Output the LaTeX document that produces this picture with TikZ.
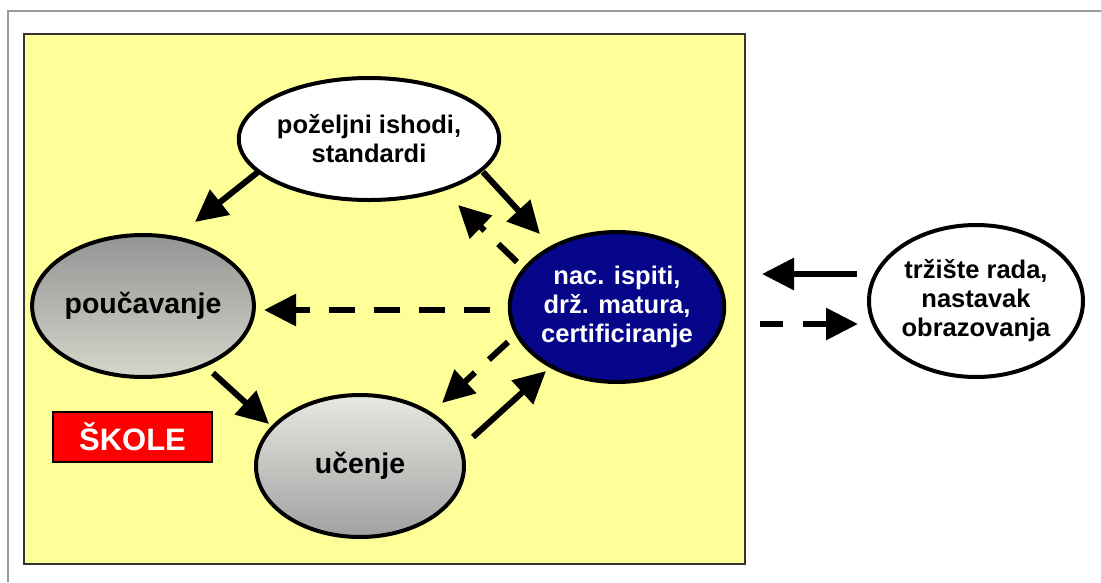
\documentclass[tikz,border=0pt]{standalone}
\usepackage{fontspec}
\setmainfont{Liberation Sans}
\usetikzlibrary{shapes.geometric,arrows.meta,calc}
\definecolor{bgyellow}{HTML}{FFFF99}
\definecolor{navyfill}{HTML}{06068A}
\definecolor{framegray}{HTML}{9A9A9A}
\begin{document}
\begin{tikzpicture}[x=1pt,y=-1pt,
  oval/.style={ellipse,draw=black,line width=4pt,inner sep=0pt,align=center,
    font=\fontsize{25.5}{29}\selectfont\bfseries},
  arr/.style={line width=6pt,-{Triangle[length=32pt,width=31pt]}},
  darr/.style={arr,dash pattern=on 26pt off 19pt}]
\useasboundingbox (0,0) rectangle (1101,582);
\fill[white] (0,0) rectangle (1101,582);
\draw[framegray,line width=1.5pt] (8,582) -- (8,11) -- (1101,11);
\draw[fill=bgyellow,draw=black!80,line width=2pt] (24,34) rectangle (745,564);
% nodes
\node[oval,fill=white,minimum width=212pt,minimum height=122pt] (top) at (369,139) {poželjni ishodi,\\standardi};
\node[oval,top color=black!42,bottom color={rgb,255:red,214;green,214;blue,204},minimum width=208pt,minimum height=142pt,
  font=\fontsize{28.5}{32}\selectfont\bfseries] (pouc) at (143,306) {poučavanje};
\node[oval,top color={rgb,255:red,232;green,232;blue,226},bottom color=black!37,minimum width=208pt,minimum height=142pt,
  font=\fontsize{28.5}{32}\selectfont\bfseries] (ucen) at (360,466) {učenje};
\node[oval,fill=navyfill,text=white,minimum width=206pt,minimum height=150pt] (nac) at (617,307) {nac. ispiti,\\drž. matura,\\certificiranje};
\node[oval,fill=white,minimum width=214pt,minimum height=152pt] (trz) at (976,301) {tržište rada,\\nastavak\\obrazovanja};
\node[draw=black,line width=1.5pt,fill=red,text=white,minimum width=159pt,minimum height=50pt,inner sep=0pt,
  font=\fontsize{31}{35}\selectfont\bfseries] (skole) at (132.5,437) {ŠKOLE};
% connector end points
\coordinate (a1s) at ($(top)+(-111,33)$);   \coordinate (a1e) at ($(pouc)+(52,-84)$);
\coordinate (a2s) at ($(top)+(114,33)$);    \coordinate (a2e) at ($(nac)+(-77,-73)$);
\coordinate (a3s) at ($(nac)+(-100,-45)$);  \coordinate (a3e) at ($(top)+(89,66)$);
\coordinate (a4s) at ($(nac)+(-127,3)$);    \coordinate (a4e) at ($(pouc)+(121,4)$);
\coordinate (a5s) at ($(nac)+(-109,35)$);   \coordinate (a5e) at ($(ucen)+(82,-63)$);
\coordinate (a6s) at ($(ucen)+(113,-29)$);  \coordinate (a6e) at ($(nac)+(-71,64)$);
\coordinate (a7s) at ($(pouc)+(70,67)$);    \coordinate (a7e) at ($(ucen)+(-91,-42)$);
\coordinate (a8s) at ($(trz)+(-119,-27)$);  \coordinate (a8e) at ($(nac)+(145,-33)$);
\coordinate (a9s) at ($(nac)+(143,17)$);    \coordinate (a9e) at ($(trz)+(-118,23)$);
% connectors
\draw[arr] (a1s) -- (a1e);
\draw[arr] (a2s) -- (a2e);
\draw[darr] (a3s) -- (a3e);
\draw[darr] (a4s) -- (a4e);
\draw[darr] (a5s) -- (a5e);
\draw[arr] (a6s) -- (a6e);
\draw[arr] (a7s) -- (a7e);
\draw[arr] (a8s) -- (a8e);
\draw[darr,dash pattern=on 23pt off 20pt] (a9s) -- (a9e);
\end{tikzpicture}
\end{document}
